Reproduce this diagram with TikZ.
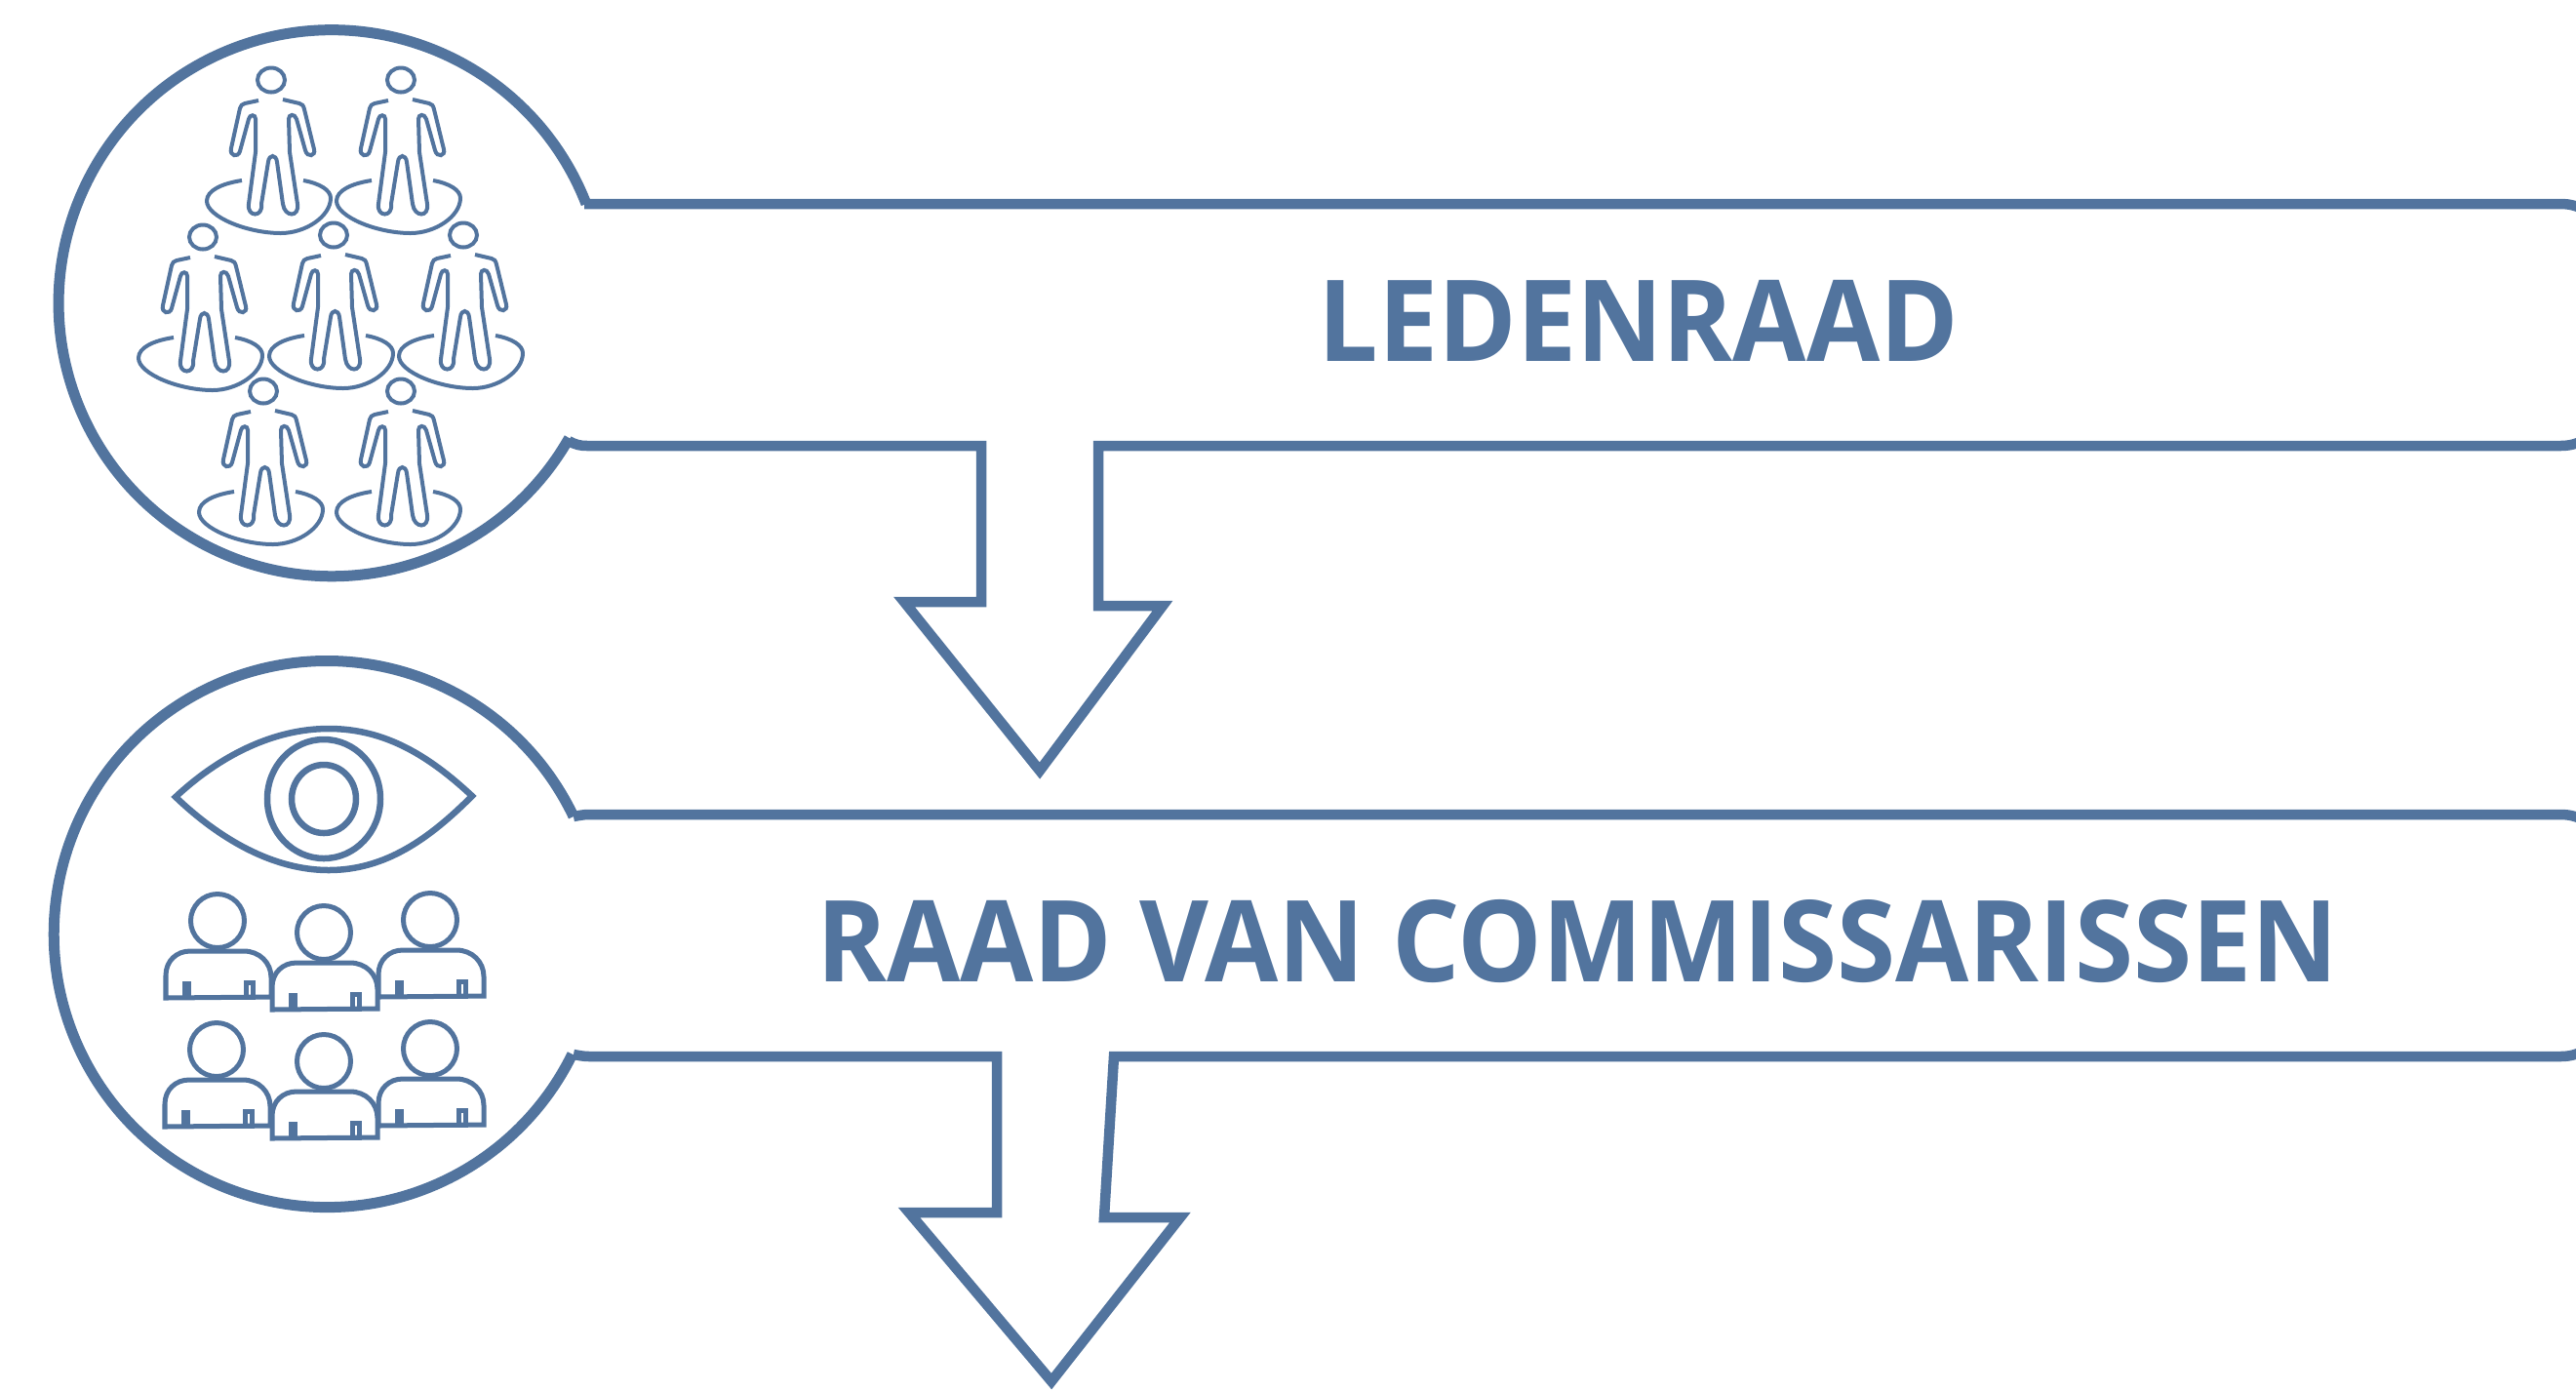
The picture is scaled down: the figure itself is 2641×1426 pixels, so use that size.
\documentclass[tikz,border=0pt]{standalone}
\usepackage{fontspec}
\setmainfont[FakeStretch=0.94]{Open Sans}
\usetikzlibrary{positioning}

\begin{document}
\begin{tikzpicture}[x=0.01cm,y=-0.01cm]
		
		\definecolor{bordblue}{RGB}{82,116,158}
		
		\useasboundingbox (0,0) rectangle (2641,1426);
		
		\tikzset{outline/.style = {draw=bordblue,line width=1.05mm,miter limit=10}}
		\tikzset{round line/.style = {draw=bordblue,line width=1.1mm}}
		\tikzset{eye line/.style = {draw=bordblue,line width=0.65mm}}
		\tikzset{thin line/.style = {draw=bordblue,line width=0.4mm}}
		\tikzset{board line/.style = {draw=bordblue,line width=0.5mm}}
		\tikzset{title/.style = {text=bordblue,font=\fontsize{33}{36}\selectfont\bfseries,inner sep=0pt}}
		
		\tikzset{member/.pic = {
			\draw[thin line] (0,0) ellipse (14 and 12.5);
			\draw[thin line] (-13,21) -- (-27,24) .. controls (-30,25) and (-31,26) .. (-32,29) -- (-41,70) .. controls (-43,78) and (-34,80) .. (-32,73) -- (-23,40) .. controls (-22,35) and (-16,35) .. (-16,40) -- (-16,74) -- (-23,127) .. controls (-25,141) and (-8,141) .. (-10,127) -- (-3,84) .. controls (-2,76) and (5,76) .. (6,84) -- (12,127) .. controls (14,141) and (29,141) .. (27,127) -- (19,74) -- (18,40) .. controls (18,35) and (24,34) .. (26,40) -- (35,72) .. controls (37,80) and (46,78) .. (44,71) -- (34,30) .. controls (33,26) and (32,25) .. (29,24) -- (12,20);
			\draw[thin line] (-30,103) .. controls (-50,106) and (-66,113) .. (-66,124) .. controls (-66,140) and (-25,157) .. (10,157) .. controls (35,157) and (61,140) .. (61,121) .. controls (61,113) and (50,106) .. (33,103);
		}}
		\tikzset{commissioner/.pic = {
			\draw[board line] (0,0) circle (27.5);
			\draw[board line] (-53,79) -- (-53,56) .. controls (-53,41) and (-42,31) .. (-28,31) -- (27,31) .. controls (43,31) and (55,43) .. (55,58) -- (55,78) -- cycle;
			\fill[bordblue] (-36,62) rectangle (-27,79);
			\draw[board line] (29,63.5) rectangle (36,78);
		}}
		
		% ledenraad
		\draw[round line] (601,209) arc[start angle=-21.3,end angle=-330.4,radius=280];
		\draw[outline] (583,452) .. controls (590,456) and (595,457) .. (602,457) -- (1006,457) -- (1006,617) -- (927,617) -- (1066,790) -- (1192,621) -- (1126,621) -- (1126,457) -- (2625,457) .. controls (2635,457) and (2641,455) .. (2650,451);
		\draw[outline] (599,209) -- (2625,209) .. controls (2635,209) and (2641,211) .. (2650,215);
		\node[title] (ledenraad) at (1680,329) {LEDENRAAD};
		
		\pic at (278,82) {member};
		\pic at (411,82) {member};
		\pic at (208,243) {member};
		\pic at (342,241) {member};
		\pic at (475,241) {member};
		\pic at (270,401) {member};
		\pic at (411,401) {member};
		
		% raad van commissarissen
		\draw[round line] (588,837) arc[start angle=-25.5,end angle=-333.9,radius=280];
		\draw[outline] (588,1081) .. controls (594,1082) and (598,1083) .. (604,1083) -- (1022,1083) -- (1022,1243) -- (932,1243) -- (1078,1416) -- (1210,1248) -- (1132,1248) -- (1142,1083) -- (2625,1083) .. controls (2635,1083) and (2641,1081) .. (2650,1077);
		\draw[outline] (588,837) .. controls (594,836) and (598,835) .. (604,835) -- (2625,835) .. controls (2635,835) and (2641,837) .. (2650,841);
		\node[title] (rvc) at (1617,965) {RAAD VAN COMMISSARISSEN};
		
		\draw[eye line] (180,817) .. controls (225,775) and (280,747) .. (337,747) .. controls (395,747) and (440,775) .. (484,816) .. controls (440,860) and (395,892) .. (337,892) .. controls (280,892) and (225,860) .. (180,817) -- cycle;
		\draw[eye line] (332,819) ellipse (58 and 61);
		\draw[eye line] (332,819) ellipse (33 and 35);
		
		\pic at (223,944) {commissioner};
		\pic at (332,956) {commissioner};
		\pic at (441,943) {commissioner};
		\pic at (222,1076) {commissioner};
		\pic at (332,1088) {commissioner};
		\pic at (441,1075) {commissioner};
		
		\end{tikzpicture}
\end{document}
